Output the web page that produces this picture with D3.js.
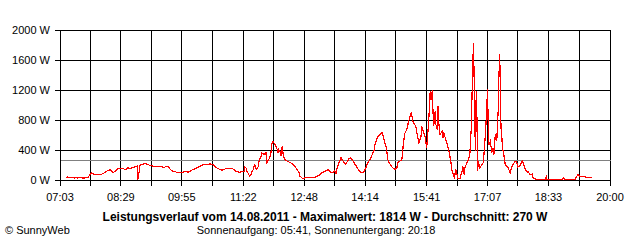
<!DOCTYPE html>
<html><head><meta charset="utf-8">
<script src="https://cdn.jsdelivr.net/npm/d3@7"></script>
<style>
body{margin:0;background:#fff}
svg{display:block}
text{font-family:"Liberation Sans",Arial,sans-serif;font-size:11px;fill:#000}
</style>
</head><body>
<svg id="chart" width="640" height="240"></svg>
<script>
const times = ["07:11","07:14","07:17","07:20","07:23","07:26","07:28","07:31","07:34","07:37","07:40","07:43","07:44","07:47","07:50","07:52","07:57","08:01","08:04","08:07","08:09","08:12","08:14","08:16","08:18","08:21","08:23","08:25","08:29","08:32","08:35","08:38","08:39","08:42","08:45","08:48","08:49","08:52","08:53","08:55","08:56","08:59","09:02","09:04","09:07","09:10","09:13","09:16","09:19","09:21","09:24","09:27","09:30","09:33","09:36","09:38","09:41","09:44","09:48","09:53","09:55","09:58","10:01","10:04","10:07","10:09","10:12","10:15","10:18","10:21","10:24","10:26","10:29","10:32","10:35","10:38","10:41","10:43","10:46","10:49","10:52","10:55","10:58","11:02","11:06","11:09","11:12","11:16","11:20","11:23","11:24","11:26","11:27","11:29","11:31","11:33","11:34","11:36","11:37","11:38","11:40","11:41","11:43","11:44","11:47","11:48","11:51","11:53","11:54","11:55","11:57","11:58","12:00","12:01","12:02","12:04","12:05","12:07","12:08","12:10","12:11","12:12","12:14","12:15","12:17","12:18","12:19","12:21","12:24","12:26","12:29","12:32","12:35","12:38","12:41","12:42","12:45","12:46","12:49","12:53","12:58","13:00","13:03","13:06","13:10","13:13","13:16","13:19","13:22","13:24","13:27","13:30","13:31","13:33","13:34","13:36","13:39","13:40","13:41","13:43","13:46","13:48","13:51","13:53","13:56","13:57","14:00","14:03","14:05","14:08","14:11","14:14","14:15","14:18","14:21","14:24","14:27","14:28","14:31","14:34","14:35","14:38","14:39","14:42","14:44","14:45","14:46","14:48","14:51","14:53","14:56","14:59","15:00","15:03","15:06","15:08","15:10","15:13","15:15","15:17","15:19","15:20","15:22","15:25","15:26","15:29","15:30","15:33","15:34","15:37","15:39","15:40","15:41","15:43","15:44","15:46","15:47","15:49","15:50","15:51","15:53","15:54","15:56","15:57","15:58","16:00","16:03","16:04","16:05","16:08","16:10","16:13","16:15","16:17","16:20","16:21","16:22","16:24","16:25","16:28","16:31","16:32","16:34","16:35","16:38","16:39","16:42","16:44","16:45","16:46","16:47","16:48","16:49","16:50","16:51","16:52","16:53","16:54","16:56","16:59","17:01","17:03","17:05","17:07","17:08","17:09","17:11","17:13","17:15","17:16","17:18","17:20","17:22","17:23","17:24","17:25","17:26","17:27","17:28","17:30","17:32","17:34","17:36","17:39","17:41","17:43","17:46","17:48","17:50","17:53","17:56","17:57","18:00","18:03","18:04","18:07","18:10","18:11","18:14","18:18","18:28","18:30","18:31","18:42","18:52","18:54","18:56","19:11","19:13","19:15","19:18","19:25","19:29","19:35"];
const watts = [23,33,23,29,20,27,17,33,23,17,27,23,47,89,76,67,63,67,80,97,111,124,133,111,93,107,133,147,143,147,133,143,156,147,156,160,169,177,0,120,191,204,209,209,200,187,183,173,169,177,177,169,160,177,169,143,116,107,97,93,89,103,107,97,111,124,137,147,164,177,191,196,196,200,209,200,187,164,147,133,124,133,151,151,151,129,107,97,103,111,169,151,107,80,44,67,107,133,173,196,147,133,173,240,311,356,333,356,356,223,253,267,320,356,467,511,493,467,440,400,356,400,373,311,444,356,307,267,244,236,223,200,173,133,89,44,20,13,23,23,23,23,31,44,63,89,103,120,133,111,89,103,111,80,133,200,267,289,267,244,200,223,276,289,267,244,200,156,120,97,89,133,156,227,267,333,400,467,556,587,600,623,600,489,427,356,267,227,177,156,133,156,223,244,267,467,613,667,756,827,889,853,756,720,689,533,489,577,711,623,560,489,423,667,800,1173,1067,1187,889,711,907,733,667,973,760,600,644,556,627,533,467,356,244,111,23,67,133,67,13,13,111,177,67,156,223,244,333,689,1089,1444,1814,1400,733,377,1177,823,111,244,156,200,223,467,777,1200,689,467,511,356,423,333,600,511,911,1333,1667,1356,689,600,423,333,200,177,156,89,156,200,244,244,167,187,244,227,143,97,107,67,73,23,9,0,0,36,0,0,0,27,0,0,44,67,36,36,23,23];
const xTickLabels = ["07:03","08:29","09:55","11:22","12:48","14:14","15:41","17:07","18:33","20:00"];
const yTickValues = [0,400,800,1200,1600,2000];
const averageWatt = 270;
const maximumWatt = 1814;
const dayLabel = "14.08.2011";
const sunrise = "05:41";
const sunset = "20:18";

const parse = d3.timeParse("%H:%M");
const data = times.map((t,i)=>({t:parse(t), v:watts[i]}));
const tickDates = xTickLabels.map(parse);

const svg = d3.select("#chart");
const x = d3.scaleTime().domain([tickDates[0], tickDates[tickDates.length-1]]).range([60,610]);
const y = d3.scaleLinear().domain([0,2000]).range([180,30]);
const px = v => Math.floor(v)+0.5;
const py = v => Math.round(v)+0.5;

const gridDates = [];
tickDates.forEach((d,i)=>{
  gridDates.push(d);
  if(i<tickDates.length-1) gridDates.push(new Date((+d + +tickDates[i+1])/2));
});

const g = svg.append("g").attr("shape-rendering","crispEdges");
g.selectAll("line.h").data(yTickValues).join("line")
  .attr("x1",55).attr("x2",px(x.range()[1]))
  .attr("y1",d=>py(y(d))).attr("y2",d=>py(y(d)))
  .attr("stroke","#000");
g.selectAll("line.v").data(gridDates).join("line")
  .attr("x1",d=>px(x(d))).attr("x2",d=>px(x(d)))
  .attr("y1",py(y(2000))).attr("y2",186)
  .attr("stroke","#000");

g.append("line")
  .attr("x1",px(60)).attr("x2",px(610))
  .attr("y1",py(y(averageWatt))).attr("y2",py(y(averageWatt)))
  .attr("stroke","#808080");

const line = d3.line().x(d=>x(d.t)).y(d=>y(d.v)-0.5);
svg.append("path").datum(data)
  .attr("d",line).attr("fill","none").attr("stroke","#ff0000")
  .attr("stroke-width",1.2).attr("shape-rendering","crispEdges");

g.append("line").attr("x1",55).attr("x2",px(610))
  .attr("y1",py(y(0))).attr("y2",py(y(0))).attr("stroke","#000");

svg.selectAll("text.yl").data(yTickValues).join("text")
  .attr("x",50).attr("y",d=>y(d)+4).attr("text-anchor","end")
  .text(d=>d+" W");
svg.selectAll("text.xl").data(tickDates).join("text")
  .attr("x",d=>x(d)).attr("y",201).attr("text-anchor","middle")
  .text((d,i)=>xTickLabels[i]);

svg.append("text").attr("x",325).attr("y",221).attr("text-anchor","middle")
  .style("font-weight","bold").style("font-size","12px")
  .text(`Leistungsverlauf vom ${dayLabel} - Maximalwert: ${maximumWatt} W - Durchschnitt: ${averageWatt} W`);
svg.append("text").attr("x",316).attr("y",234).attr("text-anchor","middle")
  .text(`Sonnenaufgang: ${sunrise}, Sonnenuntergang: ${sunset}`);
svg.append("text").attr("x",5).attr("y",234).text("© SunnyWeb");
</script>
</body></html>
